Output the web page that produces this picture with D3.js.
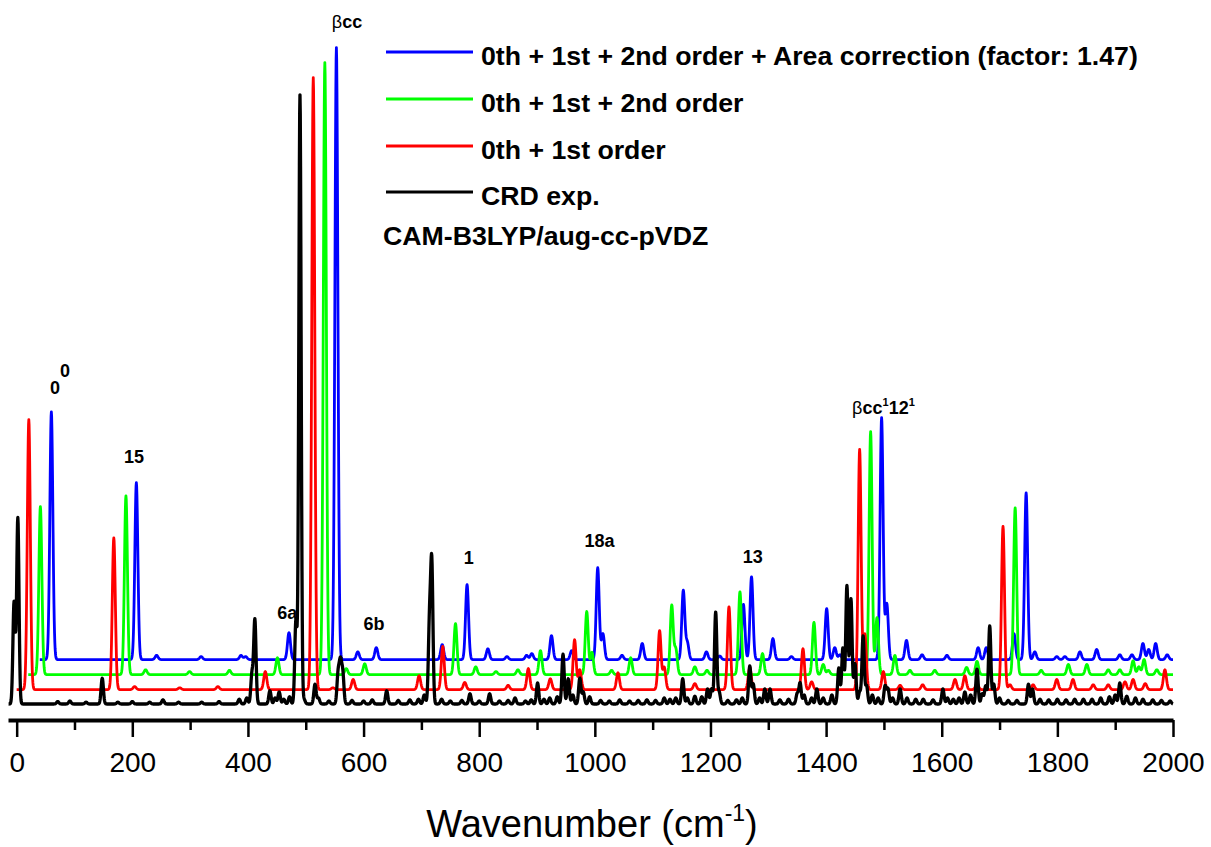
<!DOCTYPE html>
<html>
<head>
<meta charset="utf-8">
<script src="https://cdn.jsdelivr.net/npm/d3@7"></script>
<style>
  body { margin: 0; background: #fff; }
  svg { display: block; font-family: "Liberation Sans", Arial, Helvetica, sans-serif; }
</style>
</head>
<body>
<svg id="chart" width="1211" height="847"></svg>
<script>
// ---- Band positions (cm^-1) and peak intensities (arb. units) ----

// CRD experiment
const expPos = [-4.5, 2, 71, 92, 120, 148, 175, 200, 230, 253, 280, 320, 350, 385, 398,
  407, 412, 438, 447, 454, 462, 472, 483, 490, 497, 516, 522, 540, 556, 560, 564,
  580, 600, 615, 640, 660, 680, 695, 705, 714, 718, 735, 750, 770, 784, 800, 818,
  835, 850, 862, 880, 890, 901, 912, 922, 935, 945, 954, 962, 974, 980, 991, 1010,
  1025, 1043, 1060, 1075, 1090, 1105, 1120, 1130, 1140, 1152, 1160, 1173, 1185, 1195,
  1202, 1209, 1215, 1230, 1245, 1255, 1268, 1274, 1285, 1294, 1303, 1320, 1335, 1350,
  1355, 1362, 1375, 1384, 1395, 1410, 1422, 1429, 1436, 1443, 1450, 1458, 1464, 1470,
  1480, 1490, 1502, 1507, 1515, 1528, 1540, 1555, 1568, 1585, 1602, 1610, 1620, 1630,
  1640, 1650, 1661, 1670, 1676, 1683, 1690, 1700, 1715, 1730, 1750, 1757, 1770, 1785,
  1800, 1815, 1830, 1845, 1860, 1875, 1890, 1900, 1908, 1920, 1935, 1948, 1965, 1980, 1995];
const expInt = [17, 31, 0.4, 0.5, 0.3, 4.3, 0.3, 0.4, 0.3, 0.7, 0.3, 0.3, 0.4, 0.8, 1,
  5, 14, 2.2, 1, 2, 0.8, 1.2, 14, 101.5, 0.8, 3.3, 1, 0.5, 5, 6.5, 5,
  0.6, 0.5, 0.7, 2.2, 0.6, 0.7, 0.8, 1.5, 13, 23, 0.8, 0.5, 0.6, 1.7, 0.5, 1.7,
  0.5, 0.6, 1, 0.5, 0.7, 3.5, 0.8, 1, 1.2, 8.3, 4.2, 1.5, 4.3, 2, 1.2, 0.6,
  0.5, 0.7, 0.5, 0.6, 0.7, 0.6, 1, 0.8, 1, 4.2, 1, 1.3, 1.2, 2.5,
  2.5, 15.3, 2, 0.6, 0.7, 1, 6.3, 3.3, 1, 2.5, 2.5, 0.7, 0.8, 1.7,
  3.5, 1.5, 1, 2.5, 1, 1.5, 6, 9.3, 19.7, 17.5, 6.7, 2, 11.3, 3,
  1.5, 1, 3, 2.5, 1, 2.5, 1, 0.8, 0.8, 0.7, 2.5, 1, 0.8, 1,
  2, 1.5, 5.8, 1.7, 3, 13, 3.3, 1, 0.6, 0.6, 3.3, 2.5, 0.8, 0.7,
  0.8, 0.7, 0.8, 0.8, 0.8, 1, 1.2, 1.5, 3.5, 1.3, 1, 0.8, 0.7, 0.6, 0.5];

// 0th + 1st order
const o1Pos = [21, 168, 204, 282, 348, 430, 513, 547, 582, 696, 737, 775, 850, 885, 923,
  965, 974, 1040, 1112, 1120, 1173, 1232, 1268, 1360, 1375, 1458, 1467, 1499, 1528,
  1567, 1623, 1640, 1661, 1706, 1718, 1758, 1799, 1827, 1862, 1888, 1917, 1931, 1952, 1986];
const o1Int = [45, 25.3, 0.5, 0.3, 0.5, 3, 102, 0.3, 1.7, 2.3, 7.2, 1.2, 0.7, 3.5, 1.8,
  8.3, 3.3, 2.8, 9.8, 3.7, 1, 13.8, 3.7, 6.8, 1.3, 40, 9.2, 3, 0.7,
  0.8, 1.7, 2.3, 1, 27.2, 0.8, 0.8, 1.7, 1.7, 0.8, 0.8, 1.3, 1.7, 1, 3.3];

// 0th + 1st + 2nd order
const o2Pos = [41, 189, 223, 299, 368, 451, 533, 570, 602, 759, 794, 829, 867, 906, 986,
  995, 1029, 1062, 1133, 1140, 1173, 1194, 1251, 1290, 1379, 1395, 1404, 1477, 1488,
  1519, 1545, 1588, 1643, 1661, 1727, 1772, 1819, 1851, 1888, 1908, 1931, 1941, 1950, 1972];
const o2Int = [28, 29.8, 0.8, 0.5, 0.7, 2.8, 102, 1, 1.8, 8.5, 1.3, 0.5, 0.8, 4, 10.5,
  3.7, 0.7, 2.8, 11.5, 4.2, 1.3, 0.7, 13.8, 3.5, 8.7, 1.7, 0.7, 40.5, 9.5,
  3.2, 0.7, 0.7, 1.2, 2.2, 27.8, 0.7, 1.7, 1.7, 0.8, 0.8, 2.3, 1.3, 2.5, 0.8];

// 0th + 1st + 2nd order + area correction (factor 1.47)
const areaPos = [60, 207, 242, 319, 388, 396, 471, 553, 590, 622, 736, 779, 815, 848, 882,
  891, 925, 960, 1005, 1014, 1047, 1082, 1153, 1160, 1193, 1216, 1257, 1271, 1308, 1340,
  1401, 1415, 1424, 1496, 1505, 1539, 1566, 1609, 1663, 1677, 1725, 1746, 1761, 1799,
  1813, 1839, 1868, 1908, 1929, 1948, 1958, 1970, 1990];
const areaInt = [41.3, 29.5, 0.7, 0.5, 0.7, 0.5, 4.5, 102, 1.3, 2, 2.5, 12.5, 1.8, 0.5, 0.7,
  1, 4, 1.5, 15.3, 4.3, 0.7, 2.7, 11.5, 2.8, 1.3, 0.6, 9.2, 13.8, 3.5, 0.5,
  8.5, 2, 0.8, 40.3, 9.3, 3.2, 0.8, 0.7, 2, 2, 4.3, 27.8, 1.3, 0.5,
  0.5, 1.3, 1.7, 0.8, 0.8, 2.7, 1.7, 2.7, 0.8];

const seriesNames = ["CRD exp.", "0th + 1st order", "0th + 1st + 2nd order",
  "0th + 1st + 2nd order + Area correction (factor: 1.47)"];
const xTickValues = [0, 200, 400, 600, 800, 1000, 1200, 1400, 1600, 1800, 2000];
const xMinorValues = [100, 300, 500, 700, 900, 1100, 1300, 1500, 1700, 1900];

// ---- Drawing ----
const svg = d3.select("#chart");

const x = d3.scaleLinear().domain([-15, 2000]).range([8, 1173]);
const y = d3.scaleLinear().domain([0, 110]).range([704, 44]);

// Stacked traces: vertical offset, start of the simulated range, band width, colour
const traces = [
  { pos: areaPos, amp: areaInt, offset: 7.4, start: 40, sigma: 2.6, color: "#0000ff", width: 2.8 },
  { pos: o2Pos,   amp: o2Int,   offset: 4.9, start: 20, sigma: 2.6, color: "#00ff00", width: 2.8 },
  { pos: o1Pos,   amp: o1Int,   offset: 2.4, start: 0,  sigma: 2.6, color: "#ff0000", width: 2.8 },
  { pos: expPos,  amp: expInt,  offset: 0,   start: -14, sigma: 2.0, color: "#000000", width: 3.3 }
];

// Gaussian-broadened stick spectrum
function spectrum(t) {
  const pts = [];
  for (let w = t.start; w <= 2000; w += 0.5) {
    let s = 0;
    for (let i = 0; i < t.pos.length; i++) {
      const d = w - t.pos[i];
      if (Math.abs(d) < 8 * t.sigma) s += t.amp[i] * Math.exp(-d * d / (2 * t.sigma * t.sigma));
    }
    pts.push([w, t.offset + s]);
  }
  return pts;
}

const line = d3.line().x(d => x(d[0])).y(d => y(d[1]));

svg.append("g").selectAll("path")
  .data(traces)
  .join("path")
  .attr("d", t => line(spectrum(t)))
  .attr("fill", "none")
  .attr("stroke", t => t.color)
  .attr("stroke-width", t => t.width)
  .attr("stroke-linejoin", "round");

// Bottom axis with major and minor ticks
const axisY = 720;
const major = svg.append("g").attr("transform", `translate(0,${axisY})`)
  .call(d3.axisBottom(x).tickValues(xTickValues).tickFormat(d3.format("d"))
    .tickSize(17).tickSizeOuter(0).tickPadding(15));
major.select(".domain").attr("stroke-width", 4);
major.selectAll(".tick line").attr("stroke-width", 2.5);
major.selectAll(".tick text").attr("font-size", 28).attr("fill", "#000")
  .attr("font-family", '"Liberation Sans", Arial, sans-serif');

const minor = svg.append("g").attr("transform", `translate(0,${axisY})`)
  .call(d3.axisBottom(x).tickValues(xMinorValues).tickFormat("").tickSize(10).tickSizeOuter(0));
minor.select(".domain").remove();
minor.selectAll(".tick line").attr("stroke-width", 2.5);

// Axis title
const title = svg.append("text")
  .attr("x", 592).attr("y", 837)
  .attr("text-anchor", "middle")
  .attr("font-size", 38).attr("fill", "#000");
title.append("tspan").text("Wavenumber (cm");
title.append("tspan").attr("font-size", 23).attr("dy", -16).text("-1");
title.append("tspan").attr("dy", 16).text(")");

// Legend
const legendColors = ["#000000", "#ff0000", "#00ff00", "#0000ff"];
const legendRows = [192, 146, 99, 52];
const legend = svg.append("g").attr("font-weight", "bold").attr("font-size", 26.7);
seriesNames.forEach((name, i) => {
  legend.append("line")
    .attr("x1", 386).attr("x2", 473)
    .attr("y1", legendRows[i]).attr("y2", legendRows[i])
    .attr("stroke", legendColors[i]).attr("stroke-width", 3);
  legend.append("text")
    .attr("x", 481).attr("y", legendRows[i] + 13)
    .text(name);
});
legend.append("text").attr("x", 383).attr("y", 245).text("CAM-B3LYP/aug-cc-pVDZ");

// Band assignments
const ann = svg.append("g").attr("font-size", 18).attr("font-weight", "bold").attr("fill", "#000");

const t00 = ann.append("text").attr("x", x(57.6)).attr("y", y(51.7));
t00.append("tspan").text("0");
t00.append("tspan").attr("dy", -17).text("0");

const simpleLabels = [
  { t: "15", w: 203, v: 40.2 },
  { t: "6a", w: 468, v: 14.2 },
  { t: "6b", w: 618, v: 12.3 },
  { t: "1", w: 782, v: 23.3 },
  { t: "18a", w: 1008, v: 26.2 },
  { t: "13", w: 1273, v: 23.5 }
];
ann.selectAll("text.lab")
  .data(simpleLabels)
  .join("text")
  .attr("class", "lab")
  .attr("x", d => x(d.w)).attr("y", d => y(d.v))
  .attr("text-anchor", "middle")
  .text(d => d.t);

const bcc = ann.append("text").attr("x", x(545)).attr("y", y(112.7));
bcc.append("tspan").attr("font-weight", "normal").text("β");
bcc.append("tspan").text("cc");

const comb = ann.append("text").attr("x", x(1445)).attr("y", y(48.3));
comb.append("tspan").attr("font-weight", "normal").text("β");
comb.append("tspan").text("cc");
comb.append("tspan").attr("font-size", 11).attr("dy", -8).text("1");
comb.append("tspan").attr("dy", 8).text("12");
comb.append("tspan").attr("font-size", 11).attr("dy", -8).text("1");
</script>
</body>
</html>
